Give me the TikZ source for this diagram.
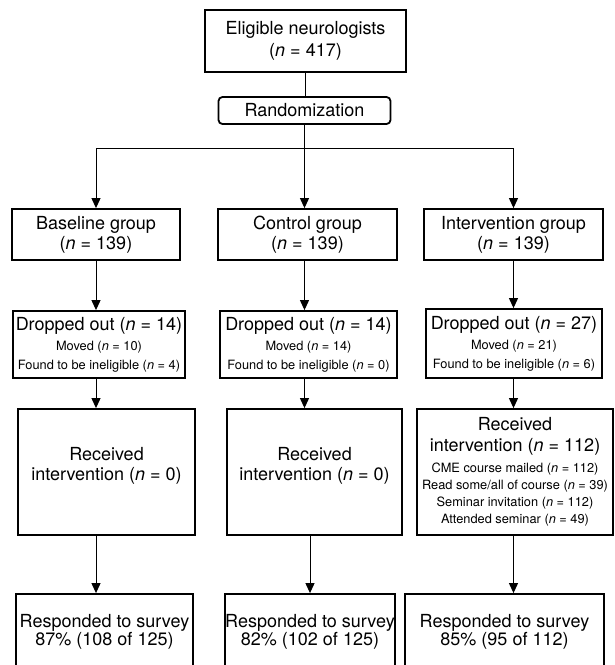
\documentclass[tikz,border=0pt]{standalone}
\usepackage{fontspec}
\setmainfont{TeX Gyre Heros}
\usetikzlibrary{arrows.meta,positioning}

\newcommand{\bigtext}{\fontsize{9}{10}\selectfont}
\newcommand{\smalltext}{\fontsize{6.4}{8}\selectfont}

\begin{document}
\begin{tikzpicture}[x=0.5pt,y=-0.5pt,
                    >={Triangle[width=4.5pt,length=5pt]},
                    main node/.style={rectangle,draw,line width=0.9pt,align=center,font=\bigtext,inner sep=0pt},
                    link/.style={line width=0.5pt}]
\useasboundingbox (0,0) rectangle (615,665);

 \node[main node,minimum width=100.5pt,minimum height=31pt] (elig) at (305.5,41)
   {Eligible neurologists\\[1pt](\textit{n} = 417)};
 \node[main node,rounded corners=2pt,minimum width=86pt,minimum height=13.5pt] (rand) at (304.5,110.5)
   {Randomization};
 \coordinate (split) at (304.5,148);

 % groups
 \foreach \n/\x/\w/\t in {base/96/84pt/Baseline,ctrl/307.5/89.5pt/Control,intv/513.5/89.5pt/Intervention}
   {\node[main node,minimum width=\w,minimum height=25.5pt] (\n) at (\x,234.5) {\t\ group\\(\textit{n} = 139)};}

 % dropped out
 \node[main node,minimum width=86pt,minimum height=33.5pt] (baseDrop) at (99,344.5)
   {Dropped out (\textit{n} = 14)\\{\smalltext Moved (\textit{n} = 10)}\\[-0.5pt]{\smalltext Found to be ineligible (\textit{n} = 4)}};
 \node[main node,minimum width=88.5pt,minimum height=33.5pt] (ctrlDrop) at (308.5,344.5)
   {Dropped out (\textit{n} = 14)\\{\smalltext Moved (\textit{n} = 14)}\\[-0.5pt]{\smalltext Found to be ineligible (\textit{n} = 0)}};
 \node[main node,minimum width=88pt,minimum height=34.5pt] (intvDrop) at (514,343.5)
   {Dropped out (\textit{n} = 27)\\{\smalltext Moved (\textit{n} = 21)}\\[-0.5pt]{\smalltext Found to be ineligible (\textit{n} = 6)}};

 % received intervention
 \node[main node,minimum width=88.5pt,minimum height=63pt] (baseRec) at (106.5,472)
   {Received\\intervention (\textit{n} = 0)\\[-2pt]\mbox{}};
 \node[main node,minimum width=87.5pt,minimum height=63pt] (ctrlRec) at (314.5,472)
   {Received\\intervention (\textit{n} = 0)\\[-2pt]\mbox{}};
 \node[main node,minimum width=98pt,minimum height=63pt] (intvRec) at (515,472)
   {Received\\[0.5pt]intervention (\textit{n} = 112)\\[0.5pt]{\smalltext CME course mailed (\textit{n} = 112)}\\[-1.5pt]
    {\smalltext Read some/all of course (\textit{n} = 39)}\\[-1.5pt]{\smalltext Seminar invitation (\textit{n} = 112)}\\[-1.5pt]
    {\smalltext Attended seminar (\textit{n} = 49)}};

 % responded
 \node[main node,minimum width=88.5pt,minimum height=37.5pt] (baseResp) at (104.5,631.5)
   {Responded to survey\\[-1pt]87\% (108 of 125)};
 \node[main node,minimum width=84pt,minimum height=37.5pt] (ctrlResp) at (310,631.5)
   {Responded to survey\\[-1pt]82\% (102 of 125)};
 \node[main node,minimum width=99.5pt,minimum height=37.5pt] (intvResp) at (504.5,631.5)
   {Responded to survey\\[-1pt]85\% (95 of 112)};

 \draw[link] (elig.south) -- (elig.south |- rand.north);
 \draw[link] (rand.south) -- (split);
 \draw[link,->] (split) -| (base);
 \draw[link,->] (split) -| (intv);
 \draw[link,->] (split) -- (split |- ctrl.north);

 \draw[link,->] (base.south) -- (base |- baseDrop.north);
 \draw[link,->] (split |- ctrl.south) -- (split |- ctrlDrop.north);
 \draw[link,->] (intv.south) -- (intv |- intvDrop.north);

 \draw[link,->] (base |- baseDrop.south) -- (base |- baseRec.north);
 \draw[link,->] (split |- ctrlDrop.south) -- (split |- ctrlRec.north);
 \draw[link,->] (intv |- intvDrop.south) -- (intv |- intvRec.north);

 \draw[link,->] (base |- baseRec.south) -- (base |- baseResp.north);
 \draw[link,->] (ctrlResp |- ctrlRec.south) -- (ctrlResp.north);
 \draw[link,->] (intv |- intvRec.south) -- (intv |- intvResp.north);

\end{tikzpicture}
\end{document}
